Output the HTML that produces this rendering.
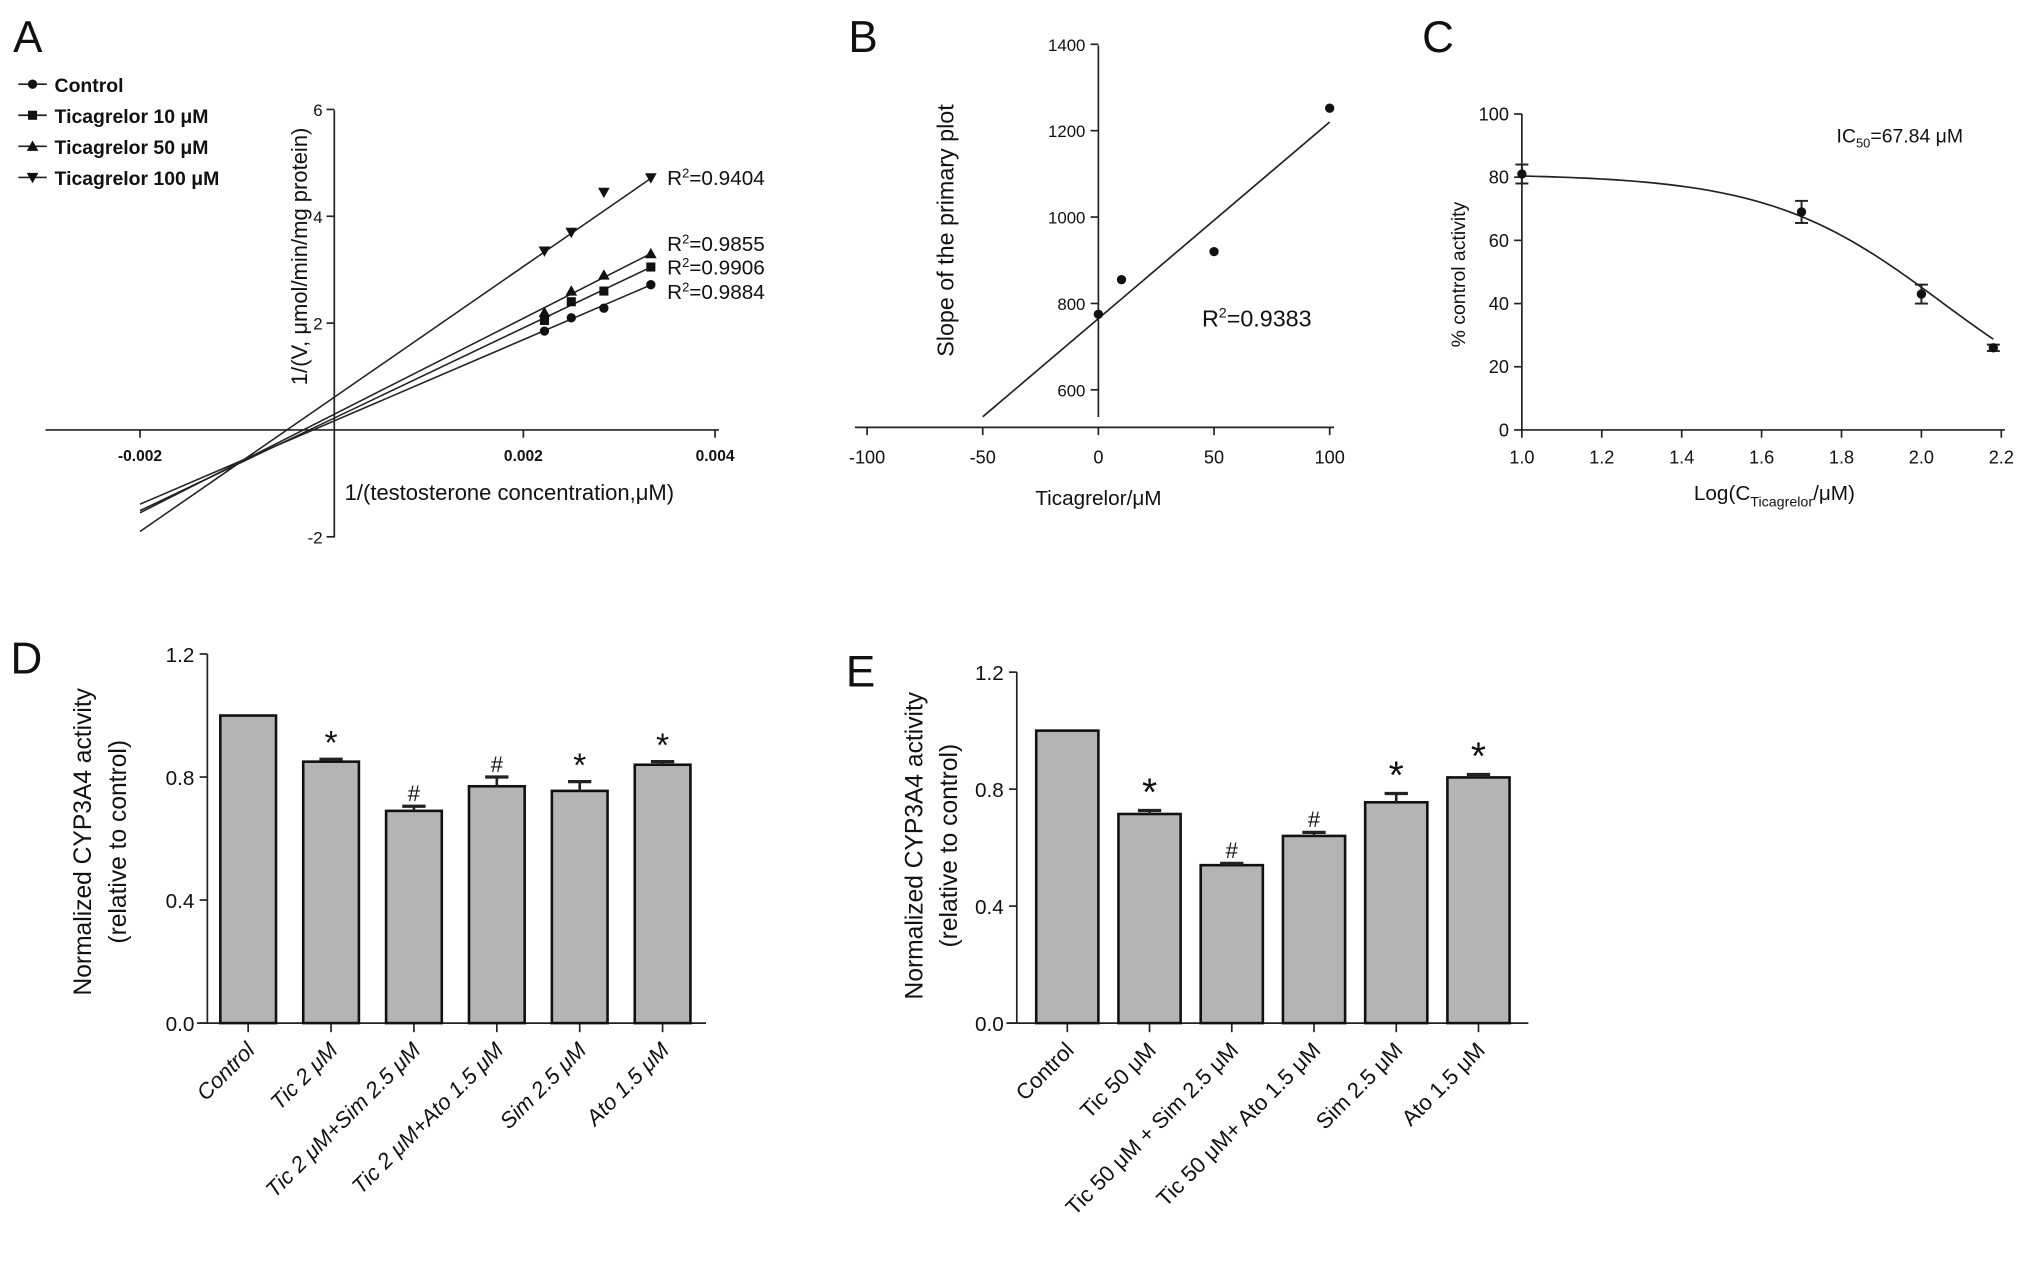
<!DOCTYPE html>
<html><head><meta charset="utf-8"><style>
html,body{margin:0;padding:0;background:#fff}
svg{display:block}
text{font-family:"Liberation Sans",sans-serif;fill:#111}
</style></head><body>
<svg id="fig" width="2031" height="1286" viewBox="0 0 1568 993" xmlns="http://www.w3.org/2000/svg">
<g stroke="#222" stroke-width="1.3" fill="none" id="static"></g>
</svg>
<script>
// Panel A data
const aX = [0.00222, 0.0025, 0.00284, 0.00333];
const aControl = [1.85, 2.1, 2.28, 2.72];
const aTic10 = [2.05, 2.4, 2.6, 3.05];
const aTic50 = [2.2, 2.6, 2.9, 3.3];
const aTic100 = [3.35, 3.7, 4.45, 4.72];
const aSlopes = [770, 855, 910, 1240];
const aIntercepts = [0.15, 0.2, 0.27, 0.58];
const aR2 = ["0.9884", "0.9906", "0.9855", "0.9404"];
const aLegend = ["Control", "Ticagrelor 10 μM", "Ticagrelor 50 μM", "Ticagrelor 100 μM"];
const aXTicks = [-0.002, 0.002, 0.004];
const aYTicks = [-2, 2, 4, 6];
// Panel B data
const bX = [0, 10, 50, 100];
const bY = [775, 855, 920, 1252];
const bFit = [765, 4.55];
const bXTicks = [-100, -50, 0, 50, 100];
const bYTicks = [600, 800, 1000, 1200, 1400];
// Panel C data
const cX = [1.0, 1.7, 2.0, 2.18];
const cY = [81, 69, 43, 26];
const cErr = [3, 3.5, 3, 1];
const cTop = 81, cLogIC = 2.05, cHill = 2;
const cXTicks = [1.0, 1.2, 1.4, 1.6, 1.8, 2.0, 2.2];
const cYTicks = [0, 20, 40, 60, 80, 100];
// Panel D data
const dCats = ["Control", "Tic 2 μM", "Tic 2 μM+Sim 2.5 μM", "Tic 2 μM+Ato 1.5 μM", "Sim 2.5 μM", "Ato 1.5 μM"];
const dVals = [1.0, 0.85, 0.69, 0.77, 0.755, 0.84];
const dErr = [0, 0.008, 0.015, 0.03, 0.03, 0.01];
const dMarks = ["", "*", "#", "#", "*", "*"];
// Panel E data
const eCats = ["Control", "Tic 50 μM", "Tic 50 μM + Sim 2.5 μM", "Tic 50 μM+ Ato 1.5 μM", "Sim 2.5 μM", "Ato 1.5 μM"];
const eVals = [1.0, 0.715, 0.54, 0.64, 0.755, 0.84];
const eErr = [0, 0.012, 0.006, 0.012, 0.03, 0.01];
const eMarks = ["", "*", "#", "#", "*", "*"];
const barTicks = [0, 0.4, 0.8, 1.2];

const NS = "http://www.w3.org/2000/svg";
const svg = document.getElementById("fig");
function mk(tag, attrs, parent) {
  const e = document.createElementNS(NS, tag);
  for (const k in attrs) e.setAttribute(k, attrs[k]);
  (parent || svg).appendChild(e);
  return e;
}
function line(x1, y1, x2, y2, name, w) {
  const e = mk("line", {x1, y1, x2, y2, stroke: "#222", "stroke-width": w || 1.3});
  
  
  return e;
}
function txt(x, y, s, size, name, anchor, extra) {
  const e = mk("text", Object.assign({x, y, "font-size": size, "text-anchor": anchor || "start"}, extra || {}));
  e.textContent = s;
  
  
  return e;
}
function marker(shape, x, y, name) {
  let e;
  if (shape === 0) e = mk("circle", {cx: x, cy: y, r: 3.6, fill: "#111"});
  else if (shape === 1) e = mk("rect", {x: x - 3.5, y: y - 3.5, width: 7, height: 7, fill: "#111"});
  else if (shape === 2) e = mk("polygon", {points: `${x},${y-4.5} ${x+4.5},${y+3.5} ${x-4.5},${y+3.5}`, fill: "#111"});
  else e = mk("polygon", {points: `${x},${y+4.5} ${x+4.5},${y-3.5} ${x-4.5},${y-3.5}`, fill: "#111"});
  
  
  return e;
}

// Panel labels
[["A",10,40],["B",655,40],["C",1098,40],["D",8,520],["E",653,530]].forEach(p => {
  txt(p[1], p[2], p[0], 34, "panel-label-" + p[0].toLowerCase());
});

// ---------- Panel A ----------
const axA = x => 256 + x / 0.001 * 74;
const ayA = y => 332 - y * 41.25;
line(35, 332, 555, 332, "a-x-axis");
line(258, 85, 258, 415, "a-y-axis");
aXTicks.forEach(t => { line(axA(t), 332, axA(t), 338, "a-x-tick"); txt(axA(t), 356, t.toFixed(3), 12, "a-x-tick-label", "middle", {"font-weight": "bold", fill: "#333"}); });
aYTicks.forEach(t => { line(252, ayA(t), 258, ayA(t), "a-y-tick"); txt(249, ayA(t) + 5, String(t), 13, "a-y-tick-label", "end", {fill: "#333"}); });
txt(266, 386, "1/(testosterone concentration,μM)", 17, "a-x-axis-title", "start", {fill: "#333"});
txt(0, 0, "1/(V, μmol/min/mg protein)", 17, "a-y-axis-title", "middle", {transform: "translate(237,198) rotate(-90)", fill: "#333"});
const aSeries = [aControl, aTic10, aTic50, aTic100];
const aR2Y = [225, 206, 188, 137];
aSeries.forEach((ser, i) => {
  const x0 = -0.002, x1 = aX[aX.length - 1];
  line(axA(x0), ayA(aIntercepts[i] + aSlopes[i] * x0), axA(x1), ayA(aIntercepts[i] + aSlopes[i] * x1), "a-fit-line-" + i, 1.2);
  ser.forEach((v, j) => marker(i, axA(aX[j]), ayA(v), "a-point"));
  const t = txt(515, aR2Y[i] + 6, "", 16, "a-r2-label", "start", {fill: "#555"});
  t.innerHTML = 'R<tspan dy="-6" font-size="10">2</tspan><tspan dy="6">=' + aR2[i] + '</tspan>';
});
aLegend.forEach((s, i) => {
  const y = 65 + i * 24;
  line(14, y, 36, y, "a-legend-line");
  marker(i, 25, y, "a-legend-marker");
  txt(42, y + 6, s, 15, "a-legend-entry", "start", {"font-weight": "bold", fill: "#333"});
});

// ---------- Panel B ----------
const axB = x => 848 + x / 50 * 89.3;
const ayB = y => 301 - (y - 600) / 200 * 66.7;
line(660, 330, 1030, 330, "b-x-axis");
line(848, 35, 848, 322, "b-y-axis");
bXTicks.forEach(t => { line(axB(t), 330, axB(t), 336, "b-x-tick"); txt(axB(t), 358, String(t), 14, "b-x-tick-label", "middle", {fill: "#333"}); });
bYTicks.forEach(t => { line(842, ayB(t), 848, ayB(t), "b-y-tick"); txt(838, ayB(t) + 5, String(t), 13, "b-y-tick-label", "end", {fill: "#333"}); });
txt(848, 390, "Ticagrelor/μM", 16, "b-x-axis-title", "middle", {fill: "#333"});
txt(0, 0, "Slope of the primary plot", 18, "b-y-axis-title", "middle", {transform: "translate(736,178) rotate(-90)", fill: "#222"});
line(axB(-50), ayB(bFit[0] + bFit[1] * -50), axB(100), ayB(bFit[0] + bFit[1] * 100), "b-fit-line", 1.3);
bX.forEach((x, i) => marker(0, axB(x), ayB(bY[i]), "b-point"));
const bR = txt(928, 252, "", 18, "b-r2-label", "start", {fill: "#666"});
bR.innerHTML = 'R<tspan dy="-7" font-size="11">2</tspan><tspan dy="7">=0.9383</tspan>';

// ---------- Panel C ----------
const axC = x => 1175 + (x - 1.0) / 0.2 * 61.7;
const ayC = y => 332 - y / 20 * 48.8;
line(1175, 332, 1548, 332, "c-x-axis");
line(1175, 88, 1175, 332, "c-y-axis");
cXTicks.forEach(t => { line(axC(t), 332, axC(t), 338, "c-x-tick"); txt(axC(t), 358, t.toFixed(1), 14, "c-x-tick-label", "middle", {fill: "#333"}); });
cYTicks.forEach(t => { line(1169, ayC(t), 1175, ayC(t), "c-y-tick"); txt(1165, ayC(t) + 5, String(t), 14, "c-y-tick-label", "end", {fill: "#333"}); });
const cxt = txt(1370, 386, "", 16, "c-x-axis-title", "middle", {fill: "#333"});
cxt.innerHTML = 'Log(C<tspan dy="5" font-size="11">Ticagrelor</tspan><tspan dy="-5">/μM)</tspan>';
txt(0, 0, "% control activity", 15, "c-y-axis-title", "middle", {transform: "translate(1131,212) rotate(-90)", fill: "#333"});
const cI = txt(1418, 110, "", 15, "c-ic50-label", "start", {fill: "#333"});
cI.innerHTML = 'IC<tspan dy="4" font-size="10">50</tspan><tspan dy="-4">=67.84 μM</tspan>';
let pts = [];
for (let k = 0; k <= 60; k++) { const x = 1.0 + k * 1.18 / 60; pts.push(axC(x) + "," + ayC(cTop / (1 + Math.pow(10, cHill * (x - cLogIC))))); }
const cc = mk("polyline", {points: pts.join(" "), fill: "none", stroke: "#222", "stroke-width": 1.3});


cX.forEach((x, i) => {
  const X = axC(x);
  line(X, ayC(cY[i] + cErr[i]), X, ayC(cY[i] - cErr[i]), "c-error-bar", 1.5);
  line(X - 5, ayC(cY[i] + cErr[i]), X + 5, ayC(cY[i] + cErr[i]), "c-error-cap", 1.5);
  line(X - 5, ayC(cY[i] - cErr[i]), X + 5, ayC(cY[i] - cErr[i]), "c-error-cap", 1.5);
  marker(0, X, ayC(cY[i]), "c-point");
});

// ---------- Bar panels ----------
function barPanel(p, cats, vals, errs, marks, yAxisX, yTop, yZero, bx0, step, bw, axEnd, italic, markSize) {
  const ay = v => yZero - v / 1.2 * (yZero - yTop);
  line(yAxisX, yTop, yAxisX, yZero, p + "-y-axis");
  line(yAxisX - 8, yZero, axEnd, yZero, p + "-x-axis");
  barTicks.forEach(t => { line(yAxisX - 6, ay(t), yAxisX, ay(t), p + "-y-tick"); txt(yAxisX - 10, ay(t) + 6, t.toFixed(1), 16, p + "-y-tick-label", "end", {fill: "#333"}); });
  cats.forEach((c, i) => {
    const x = bx0 + i * step, cx = x + bw / 2;
    const r = mk("rect", {x, y: ay(vals[i]), width: bw, height: yZero - ay(vals[i]), fill: "#b4b4b4", stroke: "#111", "stroke-width": 2});
    
    
    if (errs[i] > 0) {
      line(cx, ay(vals[i]), cx, ay(vals[i] + errs[i]), p + "-error-bar", 2);
      line(cx - 9, ay(vals[i] + errs[i]), cx + 9, ay(vals[i] + errs[i]), p + "-error-cap", 2.5);
    }
    if (marks[i]) txt(cx, ay(vals[i] + errs[i]) - 4, marks[i], marks[i] === "*" ? markSize : 17, p + "-significance-mark", "middle", {fill: "#333"});
    line(cx, yZero, cx, yZero + 7, p + "-x-tick");
    txt(0, 0, c, 17, p + "-category-label", "end", {transform: `translate(${cx + 6},${yZero + 22}) rotate(-45)`, fill: "#333", "font-style": italic ? "italic" : "normal"});
  });
}
barPanel("d", dCats, dVals, dErr, dMarks, 160, 505, 790, 170, 64, 43, 545, true, 26);
barPanel("e", eCats, eVals, eErr, eMarks, 785, 519, 790, 800, 63.5, 48, 1180, false, 30);
txt(0, 0, "Normalized CYP3A4 activity", 19, "d-y-axis-title", "middle", {transform: "translate(70,650) rotate(-90)", fill: "#333"});
txt(0, 0, "(relative to control)", 19, "d-y-axis-title-2", "middle", {transform: "translate(97,650) rotate(-90)", fill: "#333"});
txt(0, 0, "Normalized CYP3A4 activity", 19, "e-y-axis-title", "middle", {transform: "translate(712,653) rotate(-90)", fill: "#333"});
txt(0, 0, "(relative to control)", 19, "e-y-axis-title-2", "middle", {transform: "translate(739,653) rotate(-90)", fill: "#333"});
</script>
</body></html>
